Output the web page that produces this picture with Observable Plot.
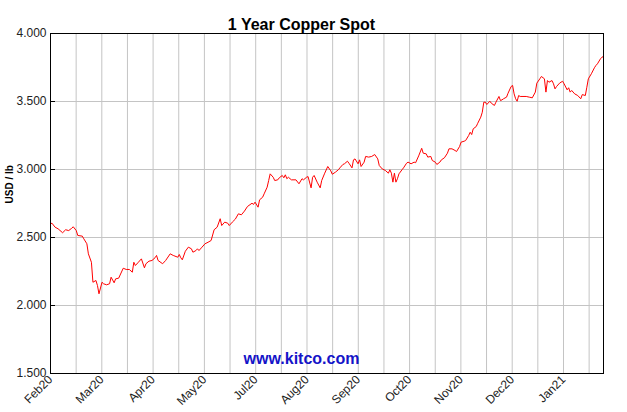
<!DOCTYPE html>
<html><head><meta charset="utf-8">
<script src="https://cdn.jsdelivr.net/npm/d3@7"></script>
<script src="https://cdn.jsdelivr.net/npm/@observablehq/plot@0.6"></script>
<style>body{margin:0;background:#fff} svg{display:block}</style>
</head><body><div id="chart"></div>
<script>
// day offsets from the first observation (one-year window)
const days = [
  0,1,3,5,8,10,12,14,15,17,
  18,21,22,24,25,27,28,30,31,32,
  34,35,37,39,40,42,43,45,48,50,
  52,54,55,56,58,60,62,63,65,67,
  69,70,71,74,76,79,81,84,85,86,
  87,89,91,93,94,96,97,98,100,102,
  104,106,108,110,112,113,115,117,118,120,
  122,124,126,128,130,133,134,135,137,138,
  140,141,143,144,145,147,148,150,151,153,
  154,155,156,157,159,162,164,166,167,169,
  170,172,173,174,176,178,179,181,183,185,
  186,188,190,191,193,194,196,197,199,200,
  201,203,204,205,207,208,210,212,214,216,
  217,219,221,223,224,225,226,227,228,229,
  230,232,233,235,236,238,240,241,243,245,
  246,248,249,251,252,254,255,257,258,260,
  262,263,265,267,268,270,271,273,274,276,
  277,278,279,281,282,284,285,286,287,288,
  290,291,293,294,296,297,298,299,301,302,
  304,305,306,307,308,309,310,314,316,318,
  320,321,323,324,326,327,328,329,331,332,
  333,334,336,338,339,341,342,343,344,346,
  348,350,351,353,354,355,357,359,360,361,
  363,364,365
];
// copper spot, USD / lb
const prices = [
  2.601,2.605,2.576,2.564,2.535,2.557,2.551,2.568,2.579,2.551,
  2.515,2.510,2.490,2.454,2.380,2.318,2.171,2.184,2.147,2.086,
  2.171,2.160,2.152,2.160,2.208,2.167,2.196,2.201,2.274,2.265,
  2.265,2.245,2.318,2.294,2.318,2.343,2.277,2.307,2.326,2.331,
  2.351,2.368,2.331,2.307,2.331,2.380,2.368,2.355,2.375,2.351,
  2.336,2.399,2.429,2.417,2.392,2.404,2.417,2.404,2.429,2.454,
  2.465,2.478,2.557,2.576,2.638,2.588,2.613,2.605,2.588,2.613,
  2.635,2.674,2.667,2.694,2.728,2.752,2.743,2.760,2.723,2.777,
  2.796,2.821,2.870,2.919,2.968,2.943,2.919,2.924,2.939,2.956,
  2.939,2.961,2.932,2.943,2.924,2.924,2.895,2.932,2.924,2.943,
  2.948,2.865,2.943,2.956,2.907,2.865,2.919,2.973,3.022,2.990,
  2.965,2.980,2.998,3.012,3.037,3.042,3.061,3.046,3.012,3.071,
  3.078,3.042,3.071,3.022,3.054,3.096,3.091,3.096,3.110,3.078,
  3.029,3.004,2.993,2.973,2.998,2.973,2.907,2.973,2.907,2.932,
  2.968,2.998,3.012,3.046,3.054,3.042,3.054,3.050,3.100,3.156,
  3.120,3.115,3.091,3.096,3.066,3.054,3.037,3.054,3.071,3.086,
  3.120,3.152,3.152,3.140,3.132,3.169,3.201,3.208,3.213,3.250,
  3.274,3.257,3.299,3.316,3.340,3.385,3.421,3.495,3.495,3.478,
  3.502,3.487,3.471,3.495,3.537,3.507,3.512,3.520,3.532,3.561,
  3.610,3.618,3.556,3.520,3.502,3.544,3.537,3.537,3.532,3.527,
  3.569,3.635,3.667,3.684,3.667,3.569,3.654,3.642,3.654,3.630,
  3.593,3.610,3.635,3.649,3.630,3.586,3.601,3.569,3.581,3.556,
  3.544,3.520,3.551,3.544,3.605,3.667,3.704,3.748,3.765,3.777,
  3.814,3.826,3.831
];
const monthLabels = ["Feb20","Mar20","Apr20","May20","Jul20","Aug20","Sep20","Oct20","Nov20","Dec20","Jan21"];
const yTicks = [1.5, 2.0, 2.5, 3.0, 3.5, 4.0];
const titleText = "1 Year Copper Spot";
const yLabel = "USD / lb";
const watermark = "www.kitco.com";

const spanDays = 365;
const gridCount = 21.56;               // grid intervals across the window
const gridStep = spanDays / gridCount;
const gridDays = d3.range(1, 22).map(i => i * gridStep);
const labelDays = monthLabels.map((_, i) => i * 2 * gridStep);
const labelOf = new Map(labelDays.map((d, i) => [d, monthLabels[i]]));
const data = days.map((d, i) => ({day: d, price: prices[i]}));

const chart = Plot.plot({
  width: 627,
  height: 412,
  marginTop: 33,
  marginLeft: 50,
  marginRight: 24,
  marginBottom: 39,
  style: {fontFamily: "'Liberation Sans', Arial, sans-serif", fontSize: "12px", background: "#fff", color: "#222", overflow: "visible"},
  x: {type: "linear", domain: [0, spanDays]},
  y: {domain: [1.5, 4.0]},
  marks: [
    Plot.ruleX(gridDays, {stroke: "#c4c4c4", strokeWidth: 1}),
    Plot.ruleY(yTicks.slice(1, -1), {stroke: "#c4c4c4", strokeWidth: 1}),
    Plot.axisY(yTicks, {tickSize: -5, tickPadding: 9, stroke: "#000", tickFormat: d3.format(".3f"), label: null, fontSize: 12, fill: "#222"}),
    Plot.axisX(labelDays, {tickSize: 0, tickPadding: 4, tickRotate: -45, tickFormat: d => labelOf.get(d), label: null, fontSize: 12, fill: "#222"}),
    Plot.line(data, {x: "day", y: "price", stroke: "#ff0000", strokeWidth: 1}),
    Plot.frame({stroke: "#000", strokeWidth: 1}),
    Plot.text([titleText], {frameAnchor: "top", dx: -25.5, dy: -15, fontSize: 16, fontWeight: "bold", fill: "#000"}),
    Plot.text([watermark], {frameAnchor: "bottom", dx: -25.5, dy: -10, fontSize: 16, fontWeight: "bold", fill: "#1414c8"}),
    Plot.text([yLabel], {frameAnchor: "left", dx: -41, rotate: -90, fontSize: 10, fontWeight: "bold", fill: "#000"})
  ]
});
document.getElementById("chart").appendChild(chart);
</script>
</body></html>
